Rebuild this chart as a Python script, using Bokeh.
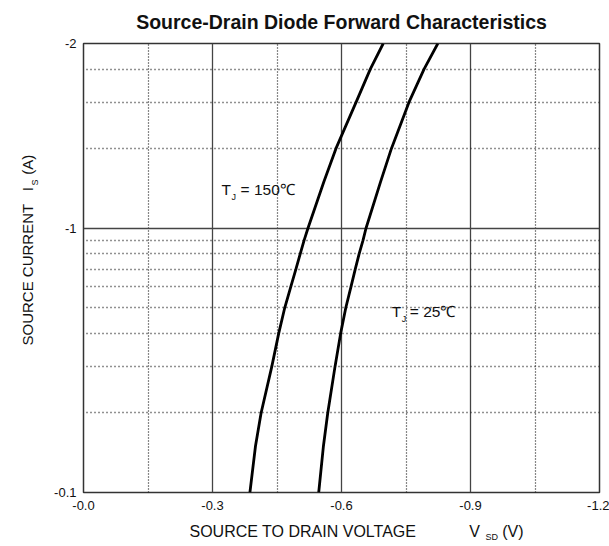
import math
from bokeh.plotting import figure
from bokeh.models import Range1d, FixedTicker, Label
from bokeh.embed import file_html
from bokeh.resources import INLINE

# ---------------- data ----------------
chart_title = "Source-Drain Diode Forward Characteristics"

x_ticks = [0.0, -0.3, -0.6, -0.9, -1.2]
x_tick_labels = ["-0.0", "-0.3", "-0.6", "-0.9", "-1.2"]
x_minor_ticks = [-0.15, -0.45, -0.75, -1.05]

y_ticks = [0.1, 1.0, 5.0]
y_tick_labels = ["-0.1", "-1", "-2"]
y_minor_ticks = [0.2, 0.3, 0.4, 0.5, 0.6, 0.7, 0.8, 0.9, 2.0, 3.0, 4.0]

# source current magnitude (A)
current = [0.1, 0.15, 0.2, 0.3, 0.4, 0.5, 0.6, 0.7, 0.8, 0.9, 1.0, 1.5, 2.0, 3.0, 4.0, 5.0]
# source-drain voltage (V)
vsd_150c = [-0.387, -0.400, -0.413, -0.438, -0.454, -0.468, -0.482, -0.494,
            -0.504, -0.513, -0.522, -0.559, -0.587, -0.634, -0.667, -0.697]
vsd_25c = [-0.547, -0.558, -0.568, -0.585, -0.598, -0.610, -0.622, -0.632,
           -0.641, -0.650, -0.657, -0.691, -0.716, -0.757, -0.792, -0.824]

NB = "\u00a0"
x_title_main = "SOURCE TO DRAIN VOLTAGE" + NB * 12 + "V" + NB * 5 + "(V)"
x_title_sub = "SD"
y_title_main = "SOURCE CURRENT" + NB * 3 + "I" + NB * 3 + "(A)"
y_title_sub = "S"

FONT = "Liberation Sans"

p = figure(width=609, height=546,
           x_range=Range1d(0.0, -1.2), y_range=Range1d(0.1, 5.0),
           y_axis_type="log", output_backend="svg", toolbar_location=None,
           min_border_left=83, min_border_right=10, min_border_top=43,
           min_border_bottom=54)
p.background_fill_color = "white"
p.border_fill_color = "white"
p.outline_line_color = "#333333"
p.outline_line_width = 1.5

xt = FixedTicker(ticks=x_ticks, minor_ticks=x_minor_ticks)
yt = FixedTicker(ticks=y_ticks, minor_ticks=y_minor_ticks)
p.xaxis.ticker = xt
p.yaxis.ticker = yt
p.xgrid.ticker = xt
p.ygrid.ticker = yt
p.xaxis.major_label_overrides = dict(zip(x_ticks, x_tick_labels))
p.yaxis.major_label_overrides = dict(zip(y_ticks, y_tick_labels))

for ax in (p.xaxis[0], p.yaxis[0]):
    ax.axis_line_color = None
    ax.major_tick_line_color = None
    ax.minor_tick_line_color = None
    ax.major_tick_out = 0
    ax.major_tick_in = 0
    ax.minor_tick_out = 0
    ax.minor_tick_in = 0
    ax.major_label_text_font = FONT
    ax.major_label_text_font_size = "13px"
    ax.major_label_text_color = "#111111"
p.xaxis.major_label_standoff = 8
p.yaxis.major_label_standoff = 7

p.xgrid.grid_line_color = "#444444"
p.xgrid.grid_line_width = 1.3
p.xgrid.minor_grid_line_color = "#111111"
p.xgrid.minor_grid_line_dash = "1 2"
p.xgrid.minor_grid_line_width = 1.2
p.ygrid.grid_line_color = "#444444"
p.ygrid.grid_line_width = 1.3
p.ygrid.minor_grid_line_color = "#222222"
p.ygrid.minor_grid_line_dash = "1 3"
p.ygrid.minor_grid_line_width = 1.3

p.line(vsd_150c, current, line_color="black", line_width=2.8)
p.line(vsd_25c, current, line_color="black", line_width=2.8)


def mk(text, x, y, size, units="data", **kw):
    return Label(x=x, y=y, x_units=units, y_units=units, text=text,
                 text_font=FONT, text_font_size=size, text_color="#111111",
                 text_baseline=kw.pop("baseline", "middle"),
                 text_align=kw.pop("align", "left"), **kw)


# curve annotations (inside the frame)
for t in (mk("T", -0.321, 1.40, "15.5px"),
          mk("J", -0.321, 1.40, "9px", x_offset=10, y_offset=-7),
          mk("= 150\u2103", -0.321, 1.40, "15.5px", x_offset=19),
          mk("T", -0.717, 0.484, "15.5px"),
          mk("J", -0.717, 0.484, "9px", x_offset=10, y_offset=-7),
          mk("= 25\u2103", -0.717, 0.484, "15.5px", x_offset=18)):
    p.add_layout(t)

# texts outside the frame live in the side panels, outside the axes
p.above.append(mk(chart_title, 258, 22, "19.5px", units="screen",
                  align="center", text_font_style="bold"))
p.below.append(mk(x_title_main, 106, -2, "16px", units="screen"))
p.below.append(mk(x_title_sub, 402, 3, "9px", units="screen"))
p.left.append(mk(y_title_main, -7, 147, "15px", units="screen",
                 angle=math.pi / 2))
p.left.append(mk(y_title_sub, 10, 307, "9px", units="screen",
                 angle=math.pi / 2))

open("out.html", "w").write(file_html(p, INLINE))
